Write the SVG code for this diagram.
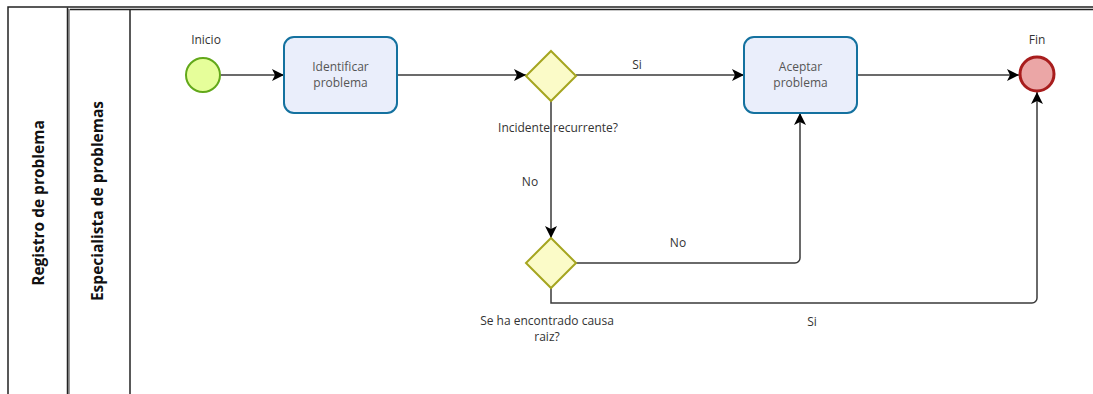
<svg xmlns="http://www.w3.org/2000/svg" width="1093" height="394" viewBox="0 0 1093 394">
  <style>
    .lane { fill: none; stroke: #222; stroke-width: 1.5; }
    .lane-gray { fill: none; stroke: #999; stroke-width: 2; }
    .head { font-family: "Open Sans", "Liberation Sans", sans-serif; font-size: 15.5px; font-weight: bold; fill: #111; text-anchor: middle; }
    .lbl { font-family: "Open Sans", "Liberation Sans", sans-serif; font-size: 12px; fill: #333; text-anchor: middle; }
    .task { fill: #eaeefb; stroke: #14719f; stroke-width: 2; }
    .task-txt { font-family: "Open Sans", "Liberation Sans", sans-serif; font-size: 12px; fill: #555; text-anchor: middle; }
    .gw { fill: #fbfbc8; stroke: #a5a520; stroke-width: 2; }
    .flow { fill: none; stroke: #3a3a3a; stroke-width: 1.5; marker-end: url(#arrow); }
  </style>
  <defs>
    <marker id="arrow" markerUnits="userSpaceOnUse" markerWidth="14" markerHeight="14" viewBox="0 0 14 14" refX="12" refY="7" orient="auto">
      <path d="M0,1 L12,7 L0,13 L3,7 Z" fill="#000"/>
    </marker>
  </defs>

  <rect width="1093" height="394" fill="#fff"/>

  <!-- Pool and lane frame -->
  <g id="pool">
    <path class="lane" d="M8,394 V7 H1093"/>
    <path class="lane-gray" d="M69,394 V9"/>
    <path class="lane" d="M67.5,394 V7.5"/>
    <path class="lane" d="M70,9.5 H1093"/>
    <path class="lane" d="M130,394 V9.5"/>
    <text class="head" transform="translate(44,203) rotate(-90)">Registro de problema</text>
    <text class="head" transform="translate(103,201) rotate(-90)">Especialista de problemas</text>
  </g>

  <!-- Sequence flows -->
  <g id="connectors">
    <path class="flow" d="M221,75 H284"/>
    <path class="flow" d="M397,75 H526"/>
    <path class="flow" d="M576,75 H744"/>
    <path class="flow" d="M857,75 H1019"/>
    <path class="flow" d="M551,101 V238"/>
    <path class="flow" d="M576,263 H795 A5,5 0 0 0 800,258 V113"/>
    <path class="flow" d="M551,288 V303 H1032 A5,5 0 0 0 1037,298 V92"/>
    <text class="lbl" x="637" y="69">Si</text>
    <text class="lbl" x="530" y="186">No</text>
    <text class="lbl" x="678" y="247">No</text>
    <text class="lbl" x="812" y="326">Si</text>
  </g>

  <g id="start">
    <circle cx="203" cy="75" r="17" fill="#e6fe9a" stroke="#62a81a" stroke-width="2"/>
    <text class="lbl" x="206" y="44">Inicio</text>
  </g>

  <g id="identificar">
    <rect class="task" x="284" y="37" width="113" height="76" rx="10"/>
    <text class="task-txt" x="340.5" y="71">Identificar</text>
    <text class="task-txt" x="340.5" y="87">problema</text>
  </g>

  <g id="gw-recurrente">
    <path class="gw" d="M551,51 L576,76 L551,101 L526,76 Z"/>
    <text class="lbl" x="558" y="132">Incidente recurrente?</text>
  </g>

  <g id="aceptar">
    <rect class="task" x="744" y="37" width="113" height="76" rx="10"/>
    <text class="task-txt" x="800.5" y="71">Aceptar</text>
    <text class="task-txt" x="800.5" y="87">problema</text>
  </g>

  <g id="end">
    <circle cx="1037" cy="74" r="17" fill="#eba6a6" stroke="#a81d1d" stroke-width="3"/>
    <text class="lbl" x="1037" y="44">Fin</text>
  </g>

  <g id="gw-causa">
    <path class="gw" d="M551,238 L576,263 L551,288 L526,263 Z"/>
    <text class="lbl" x="547" y="325">Se ha encontrado causa</text>
    <text class="lbl" x="547" y="341">raiz?</text>
  </g>
</svg>
